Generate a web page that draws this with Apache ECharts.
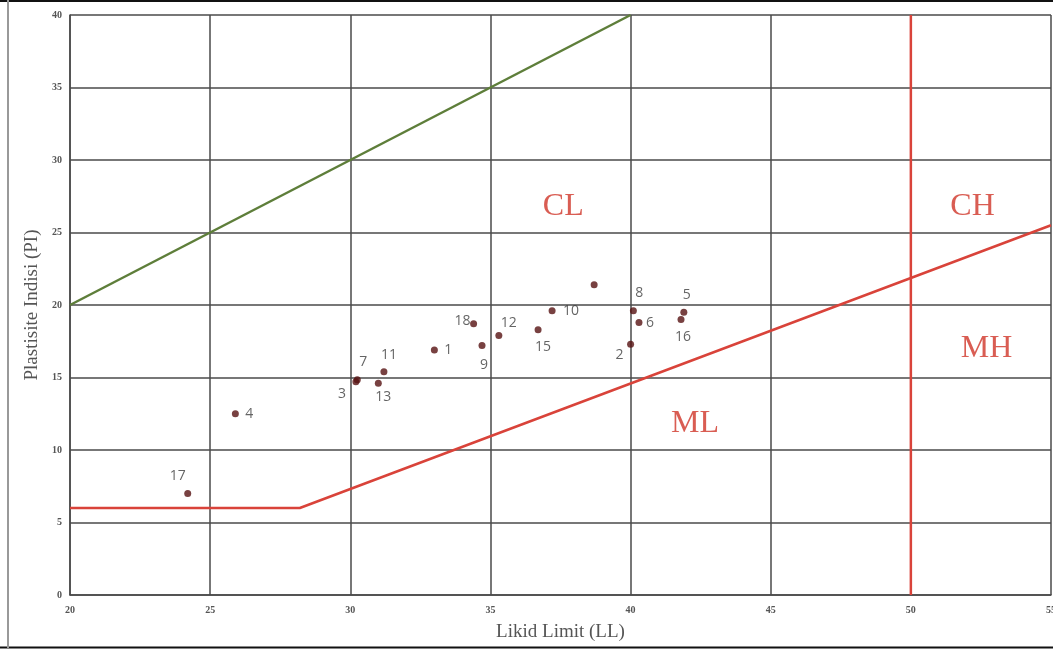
<!DOCTYPE html>
<html>
<head>
<meta charset="utf-8">
<script src="https://cdn.jsdelivr.net/npm/echarts@6/dist/echarts.min.js"></script>
<style>html,body{margin:0;padding:0;background:#fff;}#c{width:1053px;height:650px;}</style>
</head>
<body>
<div id="c"></div>
<script>
// Sample points
const sampleIds = ['1','2','3','4','5','6','7','8','9','10','11','12','13','','15','16','17','18'];
const sampleLL  = [33.0, 40.0, 30.2, 25.9, 41.9, 40.3, 30.25, 40.1, 34.7, 37.2, 31.2, 35.3, 31.0, 38.7, 36.7, 41.8, 24.2, 34.4];
const samplePI  = [16.9, 17.3, 14.7, 12.5, 19.5, 18.8, 14.85, 19.6, 17.2, 19.6, 15.4, 17.9, 14.6, 21.4, 18.3, 19.0, 7.0, 18.7];

// Boundary lines
const upperLineLL = [20, 40];
const upperLinePI = [20, 40];
const aLineLL = [20, 28.2, 55];
const aLinePI = [6, 6, 25.5];
const llDividerLL = [50, 50];
const llDividerPI = [0, 40];

// Region names
const regionNames = ['CL', 'CH', 'ML', 'MH'];
const regionLL = [37.6, 52.2, 42.3, 52.7];
const regionPI = [26.8, 26.8, 11.8, 17.0];

// Axis ticks
const xTicks = [20, 25, 30, 35, 40, 45, 50, 55];
const yTicks = [0, 5, 10, 15, 20, 25, 30, 35, 40];

// label offsets (style)
const labelOffsets = {
  '1':[14,0],'2':[-11,11],'3':[-14,12],'4':[14,0],'5':[3,-17],'6':[11,1],'7':[6,-18],
  '8':[6,-18],'9':[2,19],'10':[19,0],'11':[5,-17],'12':[10,-12],'13':[5,14],
  '15':[5,17],'16':[2,18],'17':[-10,-17],'18':[-11,-3]
};

const zip = (a, b) => a.map((v, i) => [v, b[i]]);

const pointData = sampleLL.map((x, i) => ({
  name: sampleIds[i],
  value: [x, samplePI[i]],
  label: {
    show: sampleIds[i] !== '',
    position: 'inside',
    offset: labelOffsets[sampleIds[i]] || [0, 0]
  }
}));

const regionData = regionNames.map((n, i) => ({ name: n, value: [regionLL[i], regionPI[i]] }));

const chart = echarts.init(document.getElementById('c'));
const gridColor = '#4a4a4a';
chart.setOption({
  animation: false,
  backgroundColor: '#ffffff',
  grid: { left: 70, right: 2, top: 15, bottom: 55, containLabel: false, outerBoundsMode: 'none' },
  xAxis: {
    type: 'value', min: xTicks[0], max: xTicks[xTicks.length - 1], interval: 5,
    name: 'Likid Limit (LL)', nameLocation: 'middle', nameGap: 28,
    nameTextStyle: { fontFamily: 'Liberation Serif', fontSize: 19, color: '#555' },
    axisLine: { show: true, lineStyle: { color: gridColor, width: 1.5 } },
    axisTick: { show: false },
    axisLabel: { fontFamily: 'Liberation Serif', fontWeight: 'bold', fontSize: 10, color: '#555', margin: 10,
      showMaxLabel: true },
    splitLine: { show: true, lineStyle: { color: gridColor, width: 1.5 } }
  },
  yAxis: {
    type: 'value', min: yTicks[0], max: yTicks[yTicks.length - 1], interval: 5,
    name: 'Plastisite Indisi (PI)', nameLocation: 'middle', nameGap: 25,
    nameTextStyle: { fontFamily: 'Liberation Serif', fontSize: 19, color: '#555' },
    axisLine: { show: true, lineStyle: { color: gridColor, width: 1.5 } },
    axisTick: { show: false },
    axisLabel: { fontFamily: 'Liberation Serif', fontWeight: 'bold', fontSize: 10, color: '#555', margin: 8 },
    splitLine: { show: true, lineStyle: { color: gridColor, width: 1.5 } }
  },
  graphic: [
    { type: 'line', shape: { x1: 0, y1: 1, x2: 1053, y2: 1 }, style: { stroke: '#111', lineWidth: 2 } },
    { type: 'line', shape: { x1: 0, y1: 647.5, x2: 1053, y2: 647.5 }, style: { stroke: '#111', lineWidth: 2 } },
    { type: 'line', shape: { x1: 8, y1: 0, x2: 8, y2: 648 }, style: { stroke: '#999', lineWidth: 2 } }
  ],
  series: [
    { type: 'line', data: zip(upperLineLL, upperLinePI), symbol: 'none',
      lineStyle: { color: '#5e7e3a', width: 2.5 }, z: 3 },
    { type: 'line', data: zip(aLineLL, aLinePI), symbol: 'none',
      lineStyle: { color: '#d9433a', width: 2.5 }, z: 3 },
    { type: 'line', data: zip(llDividerLL, llDividerPI), symbol: 'none',
      lineStyle: { color: '#d9433a', width: 2.5 }, z: 3 },
    { type: 'scatter', data: pointData, symbolSize: 7,
      itemStyle: { color: '#561212' }, z: 5,
      label: { formatter: '{b}', fontFamily: 'Open Sans', fontSize: 14, color: '#3d3d3d' } },
    { type: 'scatter', data: regionData, symbolSize: 0, z: 4, silent: true,
      label: { show: true, position: 'inside', formatter: '{b}', fontFamily: 'Liberation Serif',
        fontSize: 32, color: '#cf3428' } }
  ]
});
</script>
</body>
</html>
